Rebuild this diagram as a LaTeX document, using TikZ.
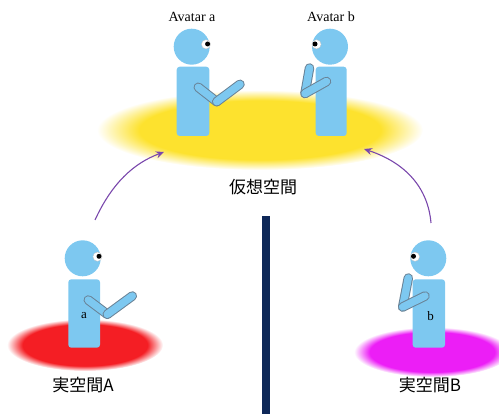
\documentclass[tikz,border=0pt]{standalone}
\usepackage{fontspec}
\setmainfont{Liberation Serif}
\newfontfamily\jpfont{Noto Sans CJK JP}
\usetikzlibrary{arrows.meta}

\definecolor{skin}{RGB}{125,200,240}
\definecolor{armline}{RGB}{105,130,150}
\definecolor{glowY}{RGB}{253,226,46}
\definecolor{glowR}{RGB}{244,30,36}
\definecolor{glowM}{RGB}{236,30,246}
\definecolor{navy}{RGB}{14,40,88}
\definecolor{arrowc}{RGB}{122,72,172}

% soft-edged discs: solid core, fading to white at the rim
\pgfdeclareradialshading{yellowglow}{\pgfpoint{0bp}{0bp}}{color(0bp)=(glowY); color(18.5bp)=(glowY); color(25bp)=(white); color(50bp)=(white)}
\pgfdeclareradialshading{redglow}{\pgfpoint{0bp}{0bp}}{color(0bp)=(glowR); color(20bp)=(glowR); color(25bp)=(white); color(50bp)=(white)}
\pgfdeclareradialshading{magentaglow}{\pgfpoint{0bp}{0bp}}{color(0bp)=(glowM); color(20bp)=(glowM); color(25bp)=(white); color(50bp)=(white)}

\tikzset{
  body/.style={fill=skin, rounded corners=3pt},
  head/.style={fill=skin},
  armout/.style={draw=armline, line width=9.5pt, line cap=round},
  armin/.style={draw=skin, line width=7.5pt, line cap=round},
  eyewhite/.style={fill=white, draw=black!25, line width=0.3pt},
  pupil/.style={fill=black},
  avlabel/.style={font=\fontsize{14}{16}\selectfont, inner sep=0pt},
  bodylabel/.style={font=\fontsize{13}{15}\selectfont, inner sep=0pt},
  spacelabel/.style={font=\jpfont\fontsize{17}{19}\selectfont, inner sep=0pt},
  arr/.style={draw=arrowc, line width=1.1pt, -{Stealth[length=8pt,width=7pt]}},
}

\newcommand{\armseg}[2]{%
  \draw[armout] #1 -- #2;
  \draw[armin] #1 -- #2;
}

\begin{document}
\begin{tikzpicture}[x=1pt,y=-1pt]
\useasboundingbox (0,0) rectangle (499,414);

% ground discs
\shade[shading=yellowglow] (260,130) ellipse[x radius=163, y radius=40];
\shade[shading=redglow] (85,345) ellipse[x radius=78, y radius=26];
\shade[shading=magentaglow] (432,352) ellipse[x radius=78, y radius=25];

% divider
\fill[navy] (262.3,216) rectangle (270,414);

% ---- Avatar a (virtual space) ----
\fill[head] (191.7,46.7) circle[radius=18];
\fill[eyewhite] (206,44.3) circle[radius=4.6];
\fill[pupil] (207.6,44) circle[radius=2.5];
\fill[body] (176.7,66.7) rectangle (209.3,136);
\armseg{(198.3,87.3)}{(216.7,101.7)}
\armseg{(216.7,101.7)}{(240,84.3)}

% ---- Avatar b (virtual space) ----
\fill[head] (330,46.7) circle[radius=18];
\fill[eyewhite] (316.5,44.3) circle[radius=4.6];
\fill[pupil] (315,44) circle[radius=2.5];
\fill[body] (315.7,66.7) rectangle (346.7,136);
\armseg{(309.5,68)}{(305,93.5)}
\armseg{(305,93.5)}{(326.5,81.5)}

% ---- person a (real space A) ----
\fill[head] (82.7,258.3) circle[radius=18];
\fill[eyewhite] (97.5,256.7) circle[radius=4.6];
\fill[pupil] (99,256.3) circle[radius=2.5];
\fill[body] (68.3,279.3) rectangle (100,347.7);
\armseg{(88.3,300)}{(107.3,314.3)}
\armseg{(107.3,314.3)}{(132.3,296)}

% ---- person b (real space B) ----
\fill[head] (428.3,258.3) circle[radius=18];
\fill[eyewhite] (415,256.7) circle[radius=4.6];
\fill[pupil] (413.5,256.3) circle[radius=2.5];
\fill[body] (412.7,279.3) rectangle (445,347.7);
\armseg{(408.3,278)}{(402.7,307)}
\armseg{(402.7,307)}{(425,296)}

% labels
\node[avlabel] (avA) at (192,17) {Avatar a};
\node[avlabel] (avB) at (331,17) {Avatar b};
\node[bodylabel] (pa) at (84,316) {a};
\node[bodylabel] (pb) at (430.7,316) {b};
\node[spacelabel] (virt) at (263,187) {仮想空間};
\node[spacelabel] (realA) at (83,385) {実空間A};
\node[spacelabel] (realB) at (430,385) {実空間B};

% links from the real spaces up to the virtual space
\coordinate (fromA) at (95,220);
\coordinate (toA) at (164,152);
\coordinate (fromB) at (431,223);
\coordinate (toB) at (364,149);
\draw[arr] (fromA) .. controls (112,183) and (134,163) .. (toA);
\draw[arr] (fromB) .. controls (428,188) and (406,163) .. (toB);
\end{tikzpicture}
\end{document}
